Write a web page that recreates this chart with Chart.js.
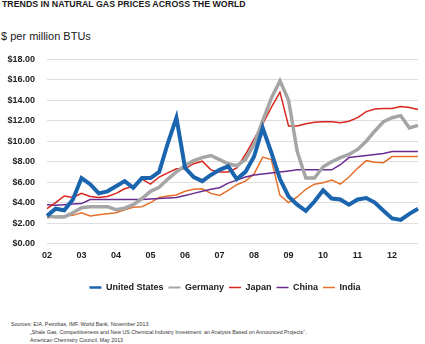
<!DOCTYPE html>
<html>
<head>
<meta charset="utf-8">
<script src="https://cdn.jsdelivr.net/npm/chart.js@4.4.1/dist/chart.umd.min.js"></script>
<style>
  body { margin: 0; background: #fff; font-family: "Liberation Sans", Arial, sans-serif; color: #1a1a1a; }
  #wrap { position: relative; width: 425px; height: 344px; overflow: hidden; }
  .title { position: absolute; left: 2px; top: 0; font-size: 8.8px; font-weight: bold; line-height: 1; white-space: nowrap; }
  .unit { position: absolute; left: 1px; top: 30.5px; font-size: 11px; line-height: 1; white-space: nowrap; }
  .chart-box { position: absolute; left: 0; top: 42px; width: 425px; height: 260px; }
  .chart-box canvas { display: block; }
  .sources { position: absolute; left: 11px; top: 320px; font-size: 5.3px; line-height: 8px; color: #333; white-space: nowrap; }
  .sources .indent { padding-left: 19px; }
</style>
</head>
<body>
<div id="wrap">
  <div class="title">TRENDS IN NATURAL GAS PRICES ACROSS THE WORLD</div>
  <div class="unit">$ per million BTUs</div>
  <div class="chart-box"><canvas id="gasChart" width="425" height="260"></canvas></div>
  <div class="sources">
    <div>Sources: EIA, Petrobas, IMF, World Bank, November 2013</div>
    <div class="indent">„Shale Gas, Competitiveness and New US Chemical Industry Investment: an Analysis Based on Announced Projects“,</div>
    <div class="indent">American Chemistry Council, May 2013</div>
  </div>
</div>
<script>
// quarterly prices, 2002 Q1 .. 2012 Q4, $ per million BTU
const years = ['02', '03', '04', '05', '06', '07', '08', '09', '10', '11', '12'];
const quarters = years.flatMap(y => ['Q1', 'Q2', 'Q3', 'Q4'].map(q => y + ' ' + q));

const unitedStates = [2.7, 3.4, 3.25, 4.3, 6.4, 5.8, 4.9, 5.1, 5.6, 6.1, 5.45, 6.4,
  6.4, 7.0, 9.8, 12.3, 7.4, 6.5, 6.1, 6.7, 7.2, 7.55, 6.3, 7.0,
  8.5, 11.3, 8.9, 6.3, 4.6, 3.8, 3.2, 4.1, 5.2, 4.4, 4.3, 3.8,
  4.3, 4.45, 4.0, 3.2, 2.45, 2.3, 2.9, 3.4];
const germany = [2.7, 2.6, 2.6, 3.0, 3.5, 3.6, 3.6, 3.6, 3.3, 3.45, 3.8, 4.4,
  5.1, 5.5, 6.3, 7.0, 7.6, 8.1, 8.4, 8.6, 8.2, 7.8, 7.6, 8.2,
  9.7, 12.0, 14.2, 15.9, 14.0, 9.0, 6.4, 6.4, 7.5, 8.0, 8.4, 8.7,
  9.2, 10.0, 11.0, 11.9, 12.3, 12.5, 11.3, 11.55];
const japan = [3.4, 4.0, 4.65, 4.5, 4.9, 4.6, 4.5, 4.6, 4.9, 5.35, 5.6, 6.3,
  5.8, 6.5, 6.9, 7.3, 7.3, 7.8, 8.05, 7.2, 7.0, 7.0, 7.4, 8.7,
  10.2, 11.7, 13.3, 14.8, 11.5, 11.5, 11.7, 11.85, 11.9, 11.9, 11.8, 11.95,
  12.3, 12.9, 13.15, 13.2, 13.2, 13.4, 13.3, 13.1];
const china = [3.8, 3.75, 3.8, 3.85, 3.9, 4.3, 4.3, 4.3, 4.3, 4.3, 4.3, 4.3,
  4.35, 4.4, 4.45, 4.5, 4.7, 4.9, 5.1, 5.3, 5.45, 5.9, 6.2, 6.5,
  6.7, 6.8, 6.9, 7.0, 7.1, 7.2, 7.2, 7.2, 7.2, 7.2, 7.7, 8.4,
  8.5, 8.6, 8.7, 8.8, 9.0, 9.0, 9.0, 9.0];
const india = [2.5, 2.65, 2.7, 2.75, 3.0, 2.7, 2.8, 2.9, 3.0, 3.3, 3.55, 3.6,
  4.0, 4.5, 4.65, 4.75, 5.1, 5.3, 5.35, 4.9, 4.7, 5.2, 5.75, 6.1,
  6.8, 8.45, 8.2, 4.7, 4.0, 4.55, 5.3, 5.8, 5.95, 6.2, 5.8, 6.5,
  7.35, 8.1, 7.95, 7.9, 8.5, 8.5, 8.5, 8.5];

// y axis: $0 .. $18 in steps of $2
const yMin = 0;
const yMax = 18;
const yStep = 2;

const FONT = '"Liberation Sans", Arial, sans-serif';

function series(label, data, color, width, legendWidth) {
  return {
    label, data,
    borderColor: color, backgroundColor: color,
    borderWidth: width, legendWidth,
    pointRadius: 0, pointHoverRadius: 0, tension: 0, fill: false
  };
}

// nudge the legend row so it centres under the plot rather than the canvas
const legendShift = {
  id: 'legendShift',
  afterLayout(chart) {
    if (chart.legend) chart.legend.left += 30;
  }
};

const ctx = document.getElementById('gasChart').getContext('2d');
new Chart(ctx, {
  type: 'line',
  data: {
    labels: quarters,
    datasets: [
      series('United States', unitedStates, '#1a65ad', 4, 2.5),
      series('Germany', germany, '#a5a5a5', 3.5, 2),
      series('Japan', japan, '#d8261f', 1.5, 1.5),
      series('China', china, '#6a2c8f', 1.5, 1.5),
      series('India', india, '#e4702b', 1.5, 1.5)
    ]
  },
  plugins: [legendShift],
  options: {
    responsive: false,
    animation: false,
    devicePixelRatio: 1,
    layout: { padding: { top: 0, right: 5, bottom: 0, left: 0 } },
    plugins: {
      tooltip: { enabled: false },
      legend: {
        position: 'bottom',
        labels: {
          usePointStyle: true,
          pointStyle: 'line',
          pointStyleWidth: 12,
          padding: 5,
          color: '#1a1a1a',
          font: { family: FONT, size: 9, weight: 'bold' },
          generateLabels: chart => chart.data.datasets.map((ds, i) => ({
            text: ds.label,
            fillStyle: ds.borderColor,
            strokeStyle: ds.borderColor,
            lineWidth: ds.legendWidth,
            pointStyle: 'line',
            fontColor: '#1a1a1a',
            hidden: false,
            datasetIndex: i
          }))
        }
      }
    },
    scales: {
      x: {
        grid: { display: false, drawTicks: false },
        border: { display: false },
        ticks: {
          autoSkip: false,
          maxRotation: 0,
          minRotation: 0,
          padding: 7,
          color: '#222',
          font: { family: FONT, size: 9, weight: 'bold' },
          callback: (v, i) => (i % 4 === 0 ? years[i / 4] : '')
        },
        afterFit: s => { s.height = 34.5; }
      },
      y: {
        min: yMin,
        max: yMax,
        grid: { color: '#dedede', lineWidth: 1, drawTicks: false },
        border: { display: false },
        ticks: {
          stepSize: yStep,
          padding: 12,
          color: '#222',
          font: { family: FONT, size: 9, weight: 'bold' },
          callback: v => '$' + Number(v).toFixed(2)
        },
        afterFit: s => { s.width = 47; }
      }
    }
  }
});
</script>
</body>
</html>
